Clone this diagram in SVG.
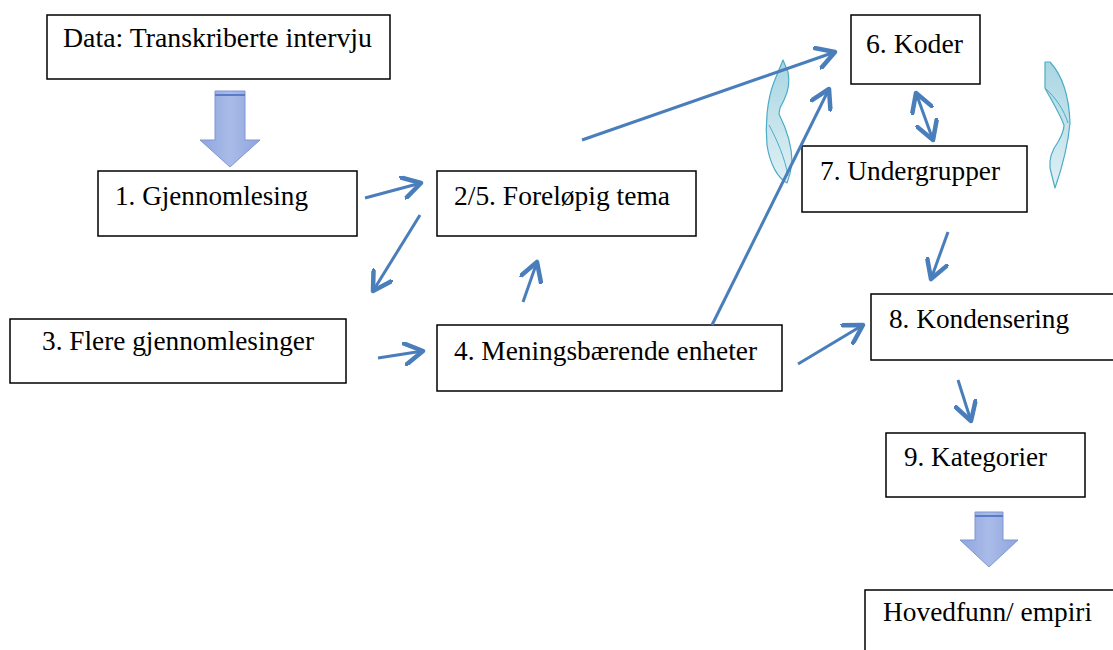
<svg xmlns="http://www.w3.org/2000/svg" width="1113" height="650" viewBox="0 0 1113 650">
<defs>
<marker id="ah" markerUnits="userSpaceOnUse" markerWidth="24" markerHeight="24" refX="13" refY="8" orient="auto-start-reverse" viewBox="0 0 16 16">
<path d="M1,1 L13,8 L1,15" fill="none" stroke="#4a7ebb" stroke-width="3" stroke-linecap="round" stroke-linejoin="round"/>
</marker>
<linearGradient id="bg" x1="0" y1="0" x2="1" y2="0">
<stop offset="0" stop-color="#8ea5dd"/><stop offset="0.5" stop-color="#a9bbe8"/><stop offset="1" stop-color="#8ea5dd"/>
</linearGradient>
<linearGradient id="cg" x1="0" y1="0" x2="0" y2="1">
<stop offset="0" stop-color="#a9d6e3"/><stop offset="1" stop-color="#dff0f5"/>
</linearGradient>
</defs>
<style>
.box{fill:#fff;stroke:#000;stroke-width:1.5}
.t{font-family:"Liberation Serif","Times New Roman","DejaVu Serif",serif;font-size:27px;fill:#000}
.c{fill:none;stroke:#4a7ebb;stroke-width:3;marker-end:url(#ah)}
.blk{fill:url(#bg);stroke:#7f97d0;stroke-width:1}
.cv{fill:url(#cg);stroke:#4bacc6;stroke-width:1.2;stroke-linejoin:round}
.cl{fill:none;stroke:#4bacc6;stroke-width:1}
</style>
<rect width="1113" height="650" fill="#fff"/>
<g id="n0"><rect class="box" x="47" y="15" width="343" height="64"/><text class="t" x="63" y="47" textLength="309" lengthAdjust="spacingAndGlyphs">Data: Transkriberte intervju</text></g>
<g id="n1"><rect class="box" x="98" y="171" width="259" height="65"/><text class="t" x="115" y="205" textLength="193" lengthAdjust="spacingAndGlyphs">1. Gjennomlesing</text></g>
<g id="n2"><rect class="box" x="437" y="171" width="259" height="65"/><text class="t" x="454" y="205" textLength="216" lengthAdjust="spacingAndGlyphs">2/5. Foreløpig tema</text></g>
<g id="n3"><rect class="box" x="10" y="319" width="336" height="64"/><text class="t" x="42" y="350" textLength="272" lengthAdjust="spacingAndGlyphs">3. Flere gjennomlesinger</text></g>
<g id="n4"><rect class="box" x="437" y="325" width="345" height="66"/><text class="t" x="454" y="360" textLength="303" lengthAdjust="spacingAndGlyphs">4. Meningsbærende enheter</text></g>
<g id="n6"><rect class="box" x="851" y="15" width="129" height="69"/><text class="t" x="866" y="53" textLength="97" lengthAdjust="spacingAndGlyphs">6. Koder</text></g>
<g id="n7"><rect class="box" x="802" y="146" width="225" height="66"/><text class="t" x="820" y="180" textLength="180" lengthAdjust="spacingAndGlyphs">7. Undergrupper</text></g>
<g id="n8"><rect class="box" x="871" y="294" width="243" height="66"/><text class="t" x="889" y="328" textLength="180" lengthAdjust="spacingAndGlyphs">8. Kondensering</text></g>
<g id="n9"><rect class="box" x="886" y="433" width="199" height="64"/><text class="t" x="904" y="466" textLength="143" lengthAdjust="spacingAndGlyphs">9. Kategorier</text></g>
<g id="n10"><rect class="box" x="865" y="590" width="252" height="70"/><text class="t" x="883" y="621" textLength="209" lengthAdjust="spacingAndGlyphs">Hovedfunn/ empiri</text></g>
<g id="block-arrows">
<path class="blk" d="M215,91 H245 V140 H260 L230,167 L200,140 H215 Z"/>
<line x1="215" y1="95" x2="245" y2="95" stroke="#5a7cc8" stroke-width="2"/>
<path class="blk" d="M975,512 H1003 V540 H1018 L989,567 L960,540 H975 Z"/>
<line x1="975" y1="516" x2="1003" y2="516" stroke="#5a7cc8" stroke-width="2"/>
</g>
<g id="curved">
<path class="cv" d="M783,60 L788,72 C790,82 788,92 784,100 L780,108 L779,114 C786,128 792,145 792,162 C791,172 789,178 787,183 C778,178 770,165 767,145 C765,125 767,100 774,82 Z"/>
<path class="cl" d="M769,125 C777,140 785,158 788,176"/>
<path class="cv" d="M1045,62 L1050,62 C1062,75 1069,95 1070,123 C1068,145 1063,165 1055,188 L1050,168 C1049,158 1052,150 1058,142 C1062,135 1064,130 1064,125 C1058,110 1050,98 1045,88 Z"/>
<path class="cl" d="M1045,88 C1056,98 1064,110 1068,123"/>
</g>
<g id="connectors">
<line class="c" x1="365" y1="198" x2="421" y2="183"/>
<line class="c" x1="420" y1="215" x2="373" y2="291"/>
<line class="c" x1="378" y1="358" x2="423" y2="351"/>
<line class="c" x1="523" y1="302" x2="537" y2="262"/>
<line class="c" x1="582" y1="140" x2="835" y2="52"/>
<line class="c" x1="712" y1="325" x2="829" y2="89"/>
<line class="c" x1="798" y1="364" x2="863" y2="325"/>
<line class="c" x1="916" y1="93" x2="933" y2="140" marker-start="url(#ah)"/>
<line class="c" x1="948" y1="232" x2="931" y2="279"/>
<line class="c" x1="958" y1="380" x2="971" y2="421"/>
</g>
</svg>
